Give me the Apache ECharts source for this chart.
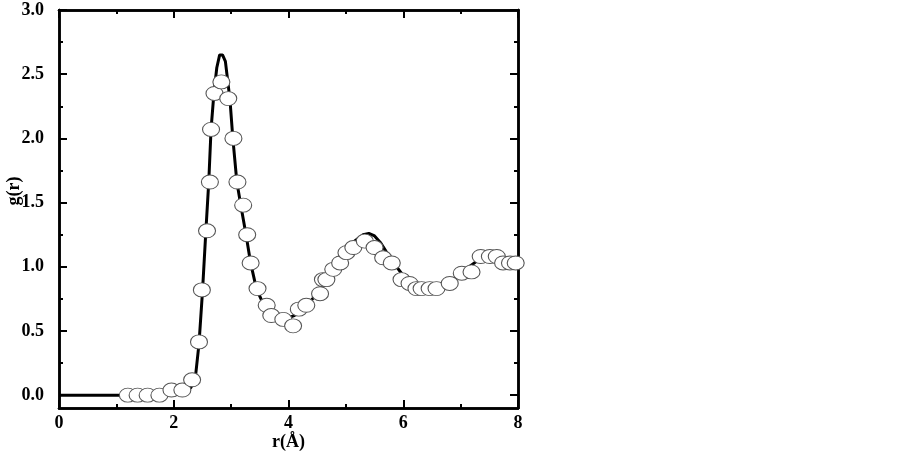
<!DOCTYPE html>
<html>
<head>
<meta charset="utf-8">
<script src="https://cdn.jsdelivr.net/npm/echarts@6/dist/echarts.min.js"></script>
<style>html,body{margin:0;padding:0;background:#fff}#c{width:902px;height:452px}</style>
</head>
<body>
<div id="c"></div>
<script>
// Simulated g(r) curve (solid line)
var lineR = [0,1.0,2.0,2.2,2.3,2.38,2.44,2.5,2.56,2.61,2.65,2.7,2.75,2.8,2.85,2.9,2.94,2.98,3.03,3.1,3.18,3.26,3.34,3.44,3.55,3.7,3.85,3.98,4.1,4.25,4.4,4.55,4.7,4.85,5.0,5.15,5.3,5.4,5.5,5.6,5.7,5.85,6.0,6.15,6.3,6.5,6.7,6.85,7.0,7.15,7.3,7.45,7.6,7.8,8.0];
var lineG = [0,0,0,0.02,0.06,0.15,0.4,0.8,1.28,1.66,2.07,2.35,2.55,2.65,2.65,2.6,2.45,2.3,2.0,1.66,1.45,1.25,1.03,0.83,0.72,0.64,0.61,0.6,0.62,0.68,0.74,0.82,0.93,1.03,1.12,1.2,1.25,1.26,1.24,1.19,1.12,1.02,0.93,0.87,0.84,0.83,0.85,0.89,0.95,1.0,1.05,1.07,1.08,1.07,1.07];
// Experimental points (open circles)
var ptR = [1.20,1.37,1.545,1.75,1.96,2.15,2.32,2.44,2.49,2.58,2.63,2.65,2.71,2.83,2.95,3.04,3.11,3.21,3.28,3.34,3.46,3.62,3.70,3.91,4.08,4.18,4.31,4.55,4.60,4.66,4.78,4.90,5.01,5.13,5.33,5.50,5.65,5.80,5.97,6.11,6.23,6.32,6.46,6.58,6.81,7.02,7.19,7.35,7.51,7.63,7.74,7.86,7.96];
var ptG = [0,0,0,0,0.04,0.04,0.12,0.415,0.82,1.28,1.66,2.07,2.35,2.44,2.31,2.0,1.66,1.48,1.25,1.03,0.83,0.70,0.62,0.59,0.54,0.67,0.70,0.79,0.90,0.90,0.98,1.03,1.11,1.15,1.20,1.15,1.07,1.03,0.90,0.87,0.83,0.83,0.83,0.83,0.87,0.95,0.96,1.08,1.08,1.08,1.03,1.03,1.03];
var xTicks = [0,2,4,6,8];
var xMinorTicks = [1,3,5,7];
var yTicks = [0,0.5,1,1.5,2,2.5,3];
var yMinorTicks = [0.25,0.75,1.25,1.75,2.25,2.75];

var lineData = lineR.map(function(r,i){return [r,lineG[i]];});
var ptData = ptR.map(function(r,i){return [r,ptG[i]];});

var font = 'Liberation Serif';
var txt = {fontFamily:font,fontWeight:'bold',fontSize:18,color:'#000'};
function xAx(pos, ticks, len, labels){
  return {type:'value',min:0,max:8,position:pos,
    axisLine:{show:true,onZero:false,lineStyle:{color:'#000',width:2.5}},
    axisTick:{show:true,inside:true,length:len,customValues:ticks,lineStyle:{color:'#000',width:2}},
    axisLabel:labels?Object.assign({show:true,margin:6,customValues:xTicks},txt):{show:false},
    splitLine:{show:false}};
}
function yAx(pos, ticks, len, labels){
  return {type:'value',min:-0.1,max:3.0,position:pos,
    axisLine:{show:true,onZero:false,lineStyle:{color:'#000',width:2.5}},
    axisTick:{show:true,inside:true,length:len,customValues:ticks,lineStyle:{color:'#000',width:2}},
    axisLabel:labels?Object.assign({show:true,margin:15,customValues:yTicks,
      formatter:function(v){return v.toFixed(1);}},txt):{show:false},
    splitLine:{show:false}};
}
var xb = xAx('bottom', xTicks, 8, true);
xb.name = 'r(Å)'; xb.nameLocation = 'middle'; xb.nameGap = 25; xb.nameMoveOverlap = false;
xb.nameTextStyle = txt;
var yl = yAx('left', yTicks, 8, true);
yl.name = 'g(r)'; yl.nameLocation = 'middle'; yl.nameGap = 36; yl.nameMoveOverlap = false;
yl.nameTextStyle = Object.assign({padding:[0,0,0,36]}, txt);

var chart = echarts.init(document.getElementById('c'));
chart.setOption({
  animation:false,
  backgroundColor:'#fff',
  grid:{left:59,right:384,top:10,bottom:44,containLabel:false,outerBoundsMode:'none'},
  xAxis:[xb, xAx('bottom', xMinorTicks, 4, false), xAx('top', xTicks, 8, false), xAx('top', xMinorTicks, 4, false)],
  yAxis:[yl, yAx('left', yMinorTicks, 4, false), yAx('right', yTicks, 8, false), yAx('right', yMinorTicks, 4, false)],
  series:[
    {type:'line',xAxisIndex:0,yAxisIndex:0,data:lineData,showSymbol:false,symbol:'none',
      lineStyle:{color:'#000',width:3},z:2},
    {type:'scatter',xAxisIndex:0,yAxisIndex:0,data:ptData,symbol:'circle',symbolSize:[17,14],
      itemStyle:{color:'#fff',borderColor:'#555',borderWidth:1,opacity:1},z:3}
  ]
});
</script>
</body>
</html>
